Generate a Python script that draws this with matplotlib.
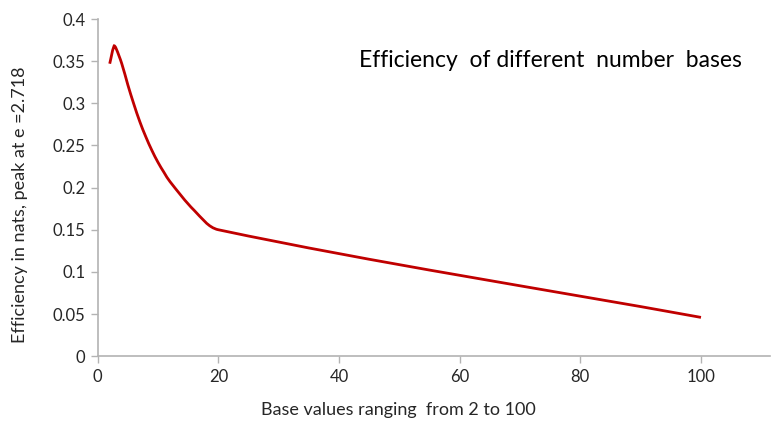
import numpy as np
import matplotlib.pyplot as plt
from matplotlib.path import Path
from matplotlib.patches import PathPatch

plt.rcParams['font.family'] = ['Lato', 'DejaVu Sans']

# values
base = [2, 2.718, 3, 4, 5, 6, 7, 8, 9, 10, 11, 12, 16, 20, 100]
eff = [0.347, 0.368, 0.366, 0.347, 0.322, 0.299, 0.278, 0.260, 0.244,
       0.230, 0.218, 0.207, 0.173, 0.150, 0.046]

x_ticks = [0, 20, 40, 60, 80, 100]
y_ticks = [0, 0.05, 0.1, 0.15, 0.2, 0.25, 0.3, 0.35, 0.4]
y_labels = ['0', '0.05', '0.1', '0.15', '0.2', '0.25', '0.3', '0.35', '0.4']

line_col = '#C00000'
axis_col = '#B3B3B3'
text_col = '#262626'


def smooth_path(xs, ys, sx, sy):
    # smoothed line: cubic bezier through every point, tangent
    # direction from the neighbours, length a third of the segment
    p = np.column_stack([np.array(xs) * sx, np.array(ys) * sy])
    n = len(p)
    verts = [p[0]]
    codes = [Path.MOVETO]
    for i in range(n - 1):
        a = p[i - 1] if i > 0 else p[i]
        b = p[i]
        c = p[i + 1]
        d = p[i + 2] if i + 2 < n else p[i + 1]
        seg = np.linalg.norm(c - b)
        t1 = (c - a) / np.linalg.norm(c - a) * seg / 3
        t2 = (d - b) / np.linalg.norm(d - b) * seg / 3
        verts += [b + t1, c - t2, c]
        codes += [Path.CURVE4] * 3
    v = np.array(verts)
    v[:, 0] /= sx
    v[:, 1] /= sy
    return Path(v, codes)


fig = plt.figure(figsize=(7.75, 4.23), dpi=100)
ax = fig.add_axes([0.126, 0.158, 0.868, 0.797])
ax.set_xlim(0, 111.5)
ax.set_ylim(0, 0.4)

path = smooth_path(base, eff, 6.03, 842.5)
ax.add_patch(PathPatch(path, fill=False, edgecolor=line_col, linewidth=2,
                       capstyle='butt'))

ax.set_xticks(x_ticks)
ax.set_yticks(y_ticks)
ax.set_yticklabels(y_labels)

for s in ['top', 'right']:
    ax.spines[s].set_visible(False)
for s in ['left', 'bottom']:
    ax.spines[s].set_color(axis_col)
    ax.spines[s].set_linewidth(1.2)
ax.tick_params(direction='out', length=5, width=1, color=axis_col,
               labelsize=12, labelcolor=text_col, pad=4)

fig.text(0.463, 0.858, 'Efficiency  of different  number  bases', fontsize=16.5,
         color='black', ha='left', va='center')
fig.text(0.026, 0.515, 'Efficiency in nats, peak at e =2.718', fontsize=13,
         color=text_col, rotation=90, ha='center', va='center')
fig.text(0.514, 0.031, 'Base values ranging  from 2 to 100', fontsize=13,
         color=text_col, ha='center', va='center')

fig.savefig('out.png', dpi=100)
